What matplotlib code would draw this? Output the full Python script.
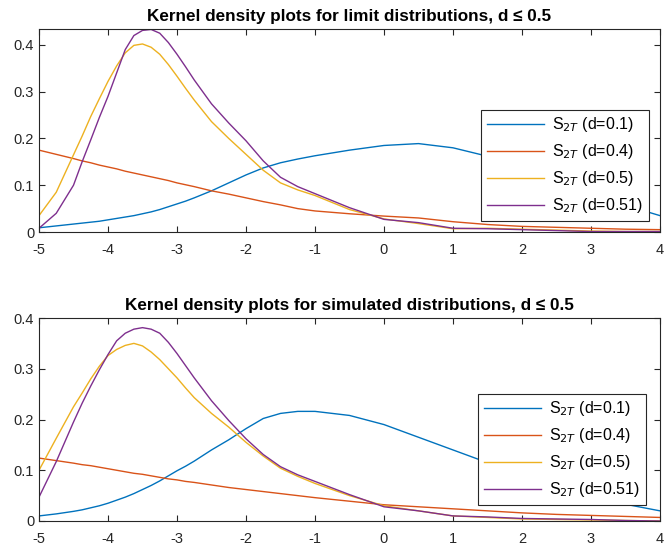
import matplotlib
matplotlib.use("Agg")
import matplotlib.pyplot as plt

plt.rcParams['font.family'] = ['Liberation Sans', 'DejaVu Sans']

x_grid = [-5, -4.75, -4.5, -4.375, -4.25, -4.125, -4, -3.875, -3.75, -3.625, -3.5, -3.375,
          -3.25, -3.125, -3, -2.875, -2.75, -2.5, -2.25, -2, -1.75, -1.5, -1.25, -1,
          -0.5, 0, 0.5, 1, 1.5, 2, 2.5, 3, 3.5, 4]

labels = ["S$_{2T}$ (d=0.1)", "S$_{2T}$ (d=0.4)", "S$_{2T}$ (d=0.5)", "S$_{2T}$ (d=0.51)"]
colors = ["#0072BD", "#D95319", "#EDB120", "#7E2F8E"]

# Limit distributions (top)
lim_d01 = [.009, .013, .017, .019, .021, .023, .026, .029, .032, .035, .039, .043,
           .048, .054, .060, .066, .073, .088, .105, .122, .137, .148, .156, .163,
           .175, .185, .189, .180, .162, .138, .110, .083, .057, .035]
lim_d04 = [.175, .166, .157, .152, .148, .143, .139, .135, .130, .126, .122, .118,
           .114, .110, .105, .101, .097, .088, .081, .073, .065, .058, .050, .045,
           .039, .034, .030, .022, .016, .012, .010, .008, .006, .005]
lim_d05 = [.035, .085, .165, .205, .247, .285, .322, .355, .383, .399, .402, .395,
           .380, .358, .333, .307, .282, .236, .200, .166, .132, .105, .090, .078,
           .048, .028, .018, .007, .008, .006, .004, .002, .001, .001]
lim_d051 = [.008, .040, .100, .150, .197, .245, .290, .340, .390, .420, .431, .433,
            .425, .405, .380, .353, .325, .274, .233, .195, .152, .117, .097, .082,
            .052, .027, .020, .008, .007, .005, .003, .001, .001, .001]

# Simulated distributions (bottom)
sim_d01 = [.010, .014, .019, .022, .026, .030, .035, .041, .047, .054, .062, .070,
           .079, .089, .099, .108, .118, .140, .160, .182, .202, .212, .216, .216,
           .208, .190, .165, .140, .115, .090, .070, .050, .033, .020]
sim_d04 = [.124, .119, .114, .111, .109, .106, .103, .100, .097, .094, .092, .089,
           .086, .083, .081, .078, .076, .071, .066, .062, .058, .054, .050, .046,
           .039, .032, .028, .024, .020, .016, .013, .011, .009, .007]
sim_d05 = [.100, .163, .225, .252, .280, .305, .326, .338, .346, .350, .345, .333,
           .318, .300, .282, .262, .243, .212, .185, .155, .128, .104, .088, .074,
           .050, .030, .020, .010, .007, .004, .003, .002, .001, .000]
sim_d051 = [.047, .117, .195, .232, .266, .298, .328, .355, .370, .378, .381, .378,
            .370, .352, .330, .306, .282, .237, .198, .162, .131, .107, .091, .078,
            .052, .028, .020, .010, .008, .005, .004, .003, .001, .000]

titles = ["Kernel density plots for limit distributions, d \u2264 0.5",
          "Kernel density plots for simulated distributions, d \u2264 0.5"]
xticks = [-5, -4, -3, -2, -1, 0, 1, 2, 3, 4]
yticks = [0, 0.1, 0.2, 0.3, 0.4]

fig = plt.figure(figsize=(6.65, 5.45), dpi=100)
ax1 = fig.add_axes([39/665, 1-232/545, 621/665, 203/545])
ax2 = fig.add_axes([39/665, 1-521/545, 621/665, 203/545])

panels = [
    (ax1, [lim_d01, lim_d04, lim_d05, lim_d051], titles[0], 0.434, (0.982, 0.054)),
    (ax2, [sim_d01, sim_d04, sim_d05, sim_d051], titles[1], 0.40, (0.977, 0.079)),
]

for ax, series, title, ytop, anchor in panels:
    for ys, c, lab in zip(series, colors, labels):
        ax.plot(x_grid, ys, color=c, lw=1.0, label=lab)
    ax.set_xlim(-5, 4)
    ax.set_ylim(0, ytop)
    ax.set_xticks(xticks)
    ax.set_xticklabels([str(t) for t in xticks])
    ax.set_yticks(yticks)
    ax.set_yticklabels(["0" if v == 0 else f"{v:.1f}" for v in yticks])
    ax.tick_params(direction='in', top=True, right=True, labelsize=10.5, length=4.5,
                   colors='#262626', width=0.8)
    ax.tick_params(axis='x', pad=8)
    for s in ax.spines.values():
        s.set_color('#262626')
        s.set_linewidth(0.8)
    ax.set_title(title, fontsize=12.3, fontweight='bold', pad=6)
    leg = ax.legend(loc='lower right', bbox_to_anchor=anchor, fontsize=11.5,
                    handlelength=3.6, fancybox=False, framealpha=1,
                    edgecolor='#262626', borderpad=0.35, labelspacing=0.5,
                    handletextpad=0.5, borderaxespad=0)
    leg.get_frame().set_linewidth(0.8)

fig.savefig("out.png", dpi=100)
